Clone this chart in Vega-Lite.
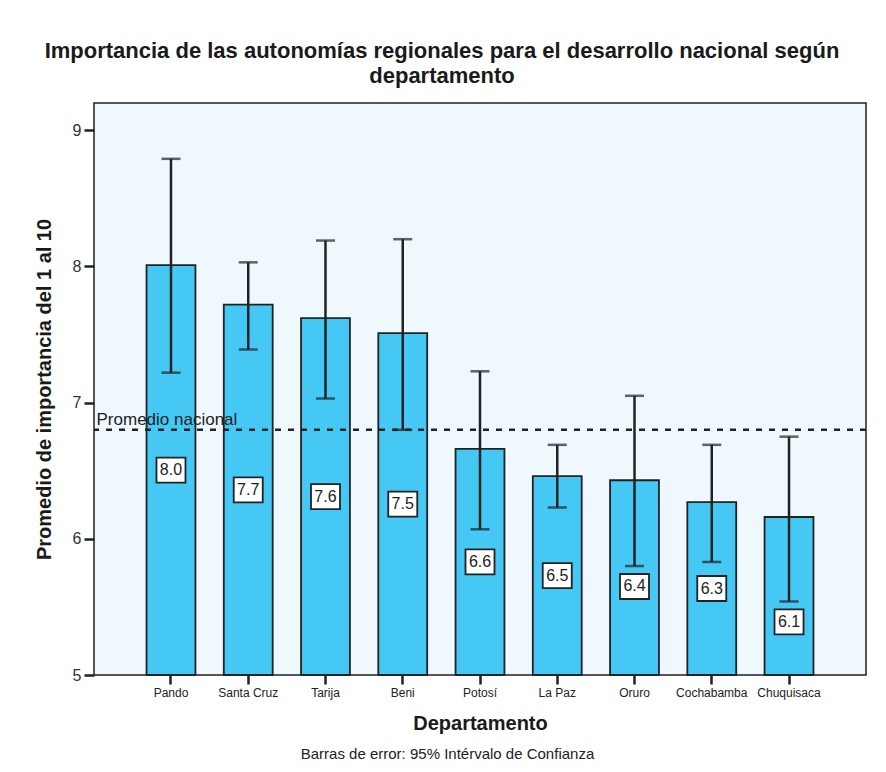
{
  "$schema": "https://vega.github.io/schema/vega-lite/v6.json",
  "width": 772,
  "height": 572,
  "autosize": {"type": "none"},
  "padding": {"left": 94, "top": 103, "right": 20, "bottom": 97},
  "background": "white",
  "title": {
    "text": ["Importancia de las autonomías regionales para el desarrollo nacional según", "departamento"],
    "anchor": "middle",
    "dx": -38,
    "offset": 15,
    "font": "Liberation Sans",
    "fontSize": 22,
    "fontWeight": "bold",
    "lineHeight": 25,
    "color": "#1a1a1a"
  },
  "config": {
    "view": {"fill": "#EEF8FD", "stroke": "#222222", "strokeWidth": 1.5},
    "font": "Liberation Sans"
  },
  "resolve": {"axis": {"x": "independent"}},
  "data": {
    "values": [
      {"dept": "Pando", "mean": 8.01, "lo": 7.22, "hi": 8.79, "label": "8.0"},
      {"dept": "Santa Cruz", "mean": 7.72, "lo": 7.39, "hi": 8.03, "label": "7.7"},
      {"dept": "Tarija", "mean": 7.62, "lo": 7.03, "hi": 8.19, "label": "7.6"},
      {"dept": "Beni", "mean": 7.51, "lo": 6.8, "hi": 8.2, "label": "7.5"},
      {"dept": "Potosí", "mean": 6.66, "lo": 6.07, "hi": 7.23, "label": "6.6"},
      {"dept": "La Paz", "mean": 6.46, "lo": 6.23, "hi": 6.69, "label": "6.5"},
      {"dept": "Oruro", "mean": 6.43, "lo": 5.8, "hi": 7.05, "label": "6.4"},
      {"dept": "Cochabamba", "mean": 6.27, "lo": 5.83, "hi": 6.69, "label": "6.3"},
      {"dept": "Chuquisaca", "mean": 6.16, "lo": 5.54, "hi": 6.75, "label": "6.1"}
    ]
  },
  "transform": [
    {"calculate": "min((5 + datum.mean) / 2, datum.lo - 0.15)", "as": "labelY"}
  ],
  "layer": [
    {
      "mark": {"type": "bar", "fill": "#45C8F4", "stroke": "#222222", "strokeWidth": 1.8},
      "encoding": {
        "x": {
          "field": "dept", "type": "nominal", "sort": null,
          "scale": {"paddingInner": 0.367, "paddingOuter": 0.68},
          "axis": {
            "orient": "bottom",
            "title": "Departamento",
            "titleFontSize": 20, "titleFontWeight": "bold", "titleColor": "#1a1a1a", "titlePadding": 15,
            "labelAngle": 0, "labelFontSize": 12, "labelColor": "#222222", "labelPadding": 3,
            "domain": false, "ticks": true, "tickSize": 9, "tickWidth": 2.5, "tickColor": "#222222"
          }
        },
        "y": {
          "field": "mean", "type": "quantitative",
          "scale": {"domain": [5, 9.2], "nice": false, "zero": false},
          "axis": {
            "title": "Promedio de importancia del 1 al 10",
            "titleFontSize": 20, "titleFontWeight": "bold", "titleColor": "#1a1a1a",
            "titleX": -50, "titleY": 286, "titleBaseline": "middle", "titleAlign": "center",
            "values": [5, 6, 7, 8, 9], "format": "d", "grid": false, "domain": false,
            "tickSize": 10, "tickWidth": 2.5, "tickColor": "#222222",
            "labelFontSize": 16, "labelColor": "#333333", "labelPadding": 3
          }
        },
        "y2": {"datum": 5}
      }
    },
    {
      "mark": {"type": "rule", "stroke": "#222222", "strokeWidth": 2.5},
      "encoding": {
        "x": {
          "field": "dept", "type": "nominal", "sort": null,
          "axis": {
            "orient": "bottom",
            "title": "Barras de error: 95% Intérvalo de Confianza",
            "titleFontSize": 15, "titleFontWeight": "normal", "titleColor": "#222222",
            "labels": false, "ticks": false, "domain": false,
            "titleX": 353, "titleY": 78, "titleBaseline": "middle", "titleAlign": "center"
          }
        },
        "y": {"field": "lo", "type": "quantitative"},
        "y2": {"field": "hi"}
      }
    },
    {
      "mark": {"type": "tick", "color": "#222222", "thickness": 2.5, "size": 19},
      "encoding": {
        "x": {"field": "dept", "type": "nominal", "sort": null, "axis": null},
        "y": {"field": "lo", "type": "quantitative"}
      }
    },
    {
      "mark": {"type": "tick", "color": "#222222", "thickness": 2.5, "size": 19},
      "encoding": {
        "x": {"field": "dept", "type": "nominal", "sort": null, "axis": null},
        "y": {"field": "hi", "type": "quantitative"}
      }
    },
    {
      "mark": {"type": "point", "shape": "M-1.16,-1H1.16V1H-1.16Z", "size": 625, "filled": true, "fill": "white", "stroke": "#222222", "strokeWidth": 1.8, "opacity": 1},
      "encoding": {
        "x": {"field": "dept", "type": "nominal", "sort": null, "axis": null},
        "y": {"field": "labelY", "type": "quantitative"}
      }
    },
    {
      "mark": {"type": "text", "fontSize": 16, "color": "#222222", "baseline": "middle", "align": "center"},
      "encoding": {
        "x": {"field": "dept", "type": "nominal", "sort": null, "axis": null},
        "y": {"field": "labelY", "type": "quantitative"},
        "text": {"field": "label"}
      }
    },
    {
      "data": {"values": [{"nat": 6.8, "name": "Promedio nacional"}]},
      "mark": {"type": "rule", "stroke": "#222222", "strokeWidth": 2.5, "strokeDash": [6, 7]},
      "encoding": {
        "y": {"field": "nat", "type": "quantitative"}
      }
    },
    {
      "data": {"values": [{"nat": 6.8, "name": "Promedio nacional"}]},
      "mark": {"type": "text", "fontSize": 17, "color": "#222222", "align": "left", "baseline": "alphabetic", "dy": -5, "dx": -50},
      "encoding": {
        "x": {"datum": "Pando", "type": "nominal", "bandPosition": 0, "axis": null},
        "y": {"field": "nat", "type": "quantitative"},
        "text": {"field": "name"}
      }
    }
  ]
}
